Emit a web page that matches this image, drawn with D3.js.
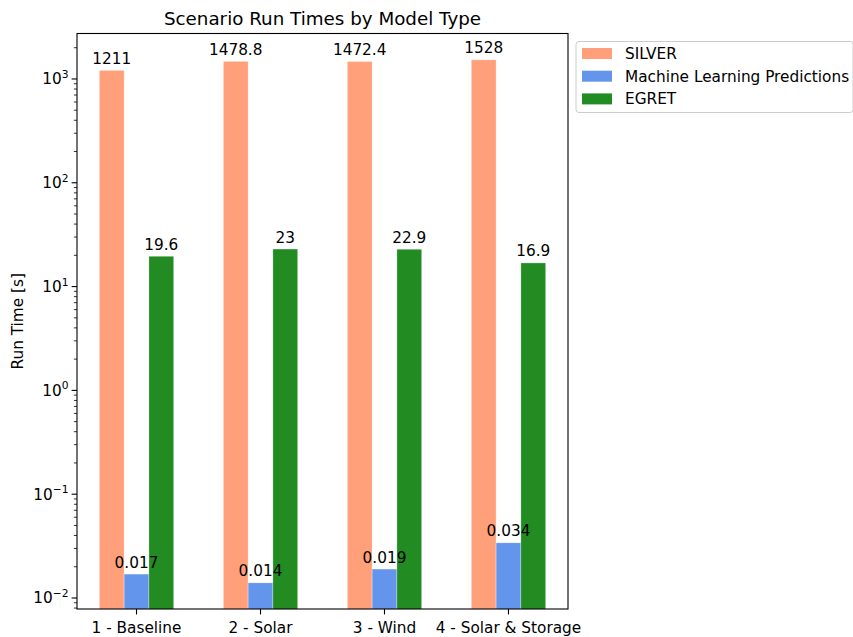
<!DOCTYPE html>
<html>
<head>
<meta charset="utf-8">
<script src="https://cdn.jsdelivr.net/npm/d3@7"></script>
<style>
  html, body { margin: 0; padding: 0; background: #fff; }
  svg { display: block; font-family: "DejaVu Sans", sans-serif; }
</style>
</head>
<body>
<svg id="chart" width="853" height="637"></svg>
<script>
// Scenario categories and run times (seconds) for each model type
const scenarios = ["1 - Baseline", "2 - Solar", "3 - Wind", "4 - Solar & Storage"];
const silverTimes = [1211, 1478.8, 1472.4, 1528];
const mlTimes = [0.017, 0.014, 0.019, 0.034];
const egretTimes = [19.6, 23, 22.9, 16.9];
const seriesNames = ["SILVER", "Machine Learning Predictions", "EGRET"];
const seriesColors = ["#FFA07A", "#6495ED", "#228B22"];
const yTickExponents = [-2, -1, 0, 1, 2, 3];

const FS = "15.3px";
const svg = d3.select("#chart");
const margin = { left: 77, right: 568, top: 33.5, bottom: 609 };

// x: category index, with the grouped bars spanning ±0.3 and 5% padding
const x = d3.scaleLinear().domain([-0.48, 3.48]).range([margin.left, margin.right]);
const y = d3.scaleLog().domain([Math.pow(10, -2.106), Math.pow(10, 3.438)]).range([margin.bottom, margin.top]);

const barW = 0.2;
const series = [silverTimes, mlTimes, egretTimes];
const offsets = [-0.2, 0, 0.2];

svg.append("clipPath").attr("id", "plotclip").append("rect")
  .attr("x", margin.left).attr("y", margin.top)
  .attr("width", margin.right - margin.left).attr("height", margin.bottom - margin.top);

const bars = svg.append("g").attr("clip-path", "url(#plotclip)");
const labels = svg.append("g");

series.forEach((vals, si) => {
  bars.append("g").selectAll("rect").data(vals).join("rect")
    .attr("x", (d, i) => x(i + offsets[si] - barW / 2))
    .attr("width", (d, i) => x(i + offsets[si] + barW / 2) - x(i + offsets[si] - barW / 2))
    .attr("y", d => y(d))
    .attr("height", d => margin.bottom + 2 - y(d))
    .attr("fill", seriesColors[si])
    .attr("stroke", "#fff")
    .attr("stroke-opacity", 0.5)
    .attr("stroke-width", 0.6);
  // value labels above each bar, drawn on top of all bars
  labels.append("g").selectAll("text").data(vals).join("text")
    .attr("x", (d, i) => x(i + offsets[si]))
    .attr("y", d => y(d) - 6.5)
    .attr("text-anchor", "middle")
    .attr("font-size", FS)
    .attr("fill", "#000")
    .text(d => String(d));
});

// spines
svg.append("rect")
  .attr("x", margin.left).attr("y", margin.top)
  .attr("width", margin.right - margin.left).attr("height", margin.bottom - margin.top)
  .attr("fill", "none").attr("stroke", "#000").attr("stroke-width", 1.1);

// x axis ticks and labels
const xAxis = svg.append("g");
scenarios.forEach((s, i) => {
  xAxis.append("line").attr("x1", x(i)).attr("x2", x(i))
    .attr("y1", margin.bottom).attr("y2", margin.bottom + 5.4)
    .attr("stroke", "#000").attr("stroke-width", 1.1);
  xAxis.append("text").attr("x", x(i)).attr("y", margin.bottom + 23.5)
    .attr("text-anchor", "middle").attr("font-size", FS).text(s);
});

// y axis: major decades and minor 2..9 ticks
const yAxis = svg.append("g");
const [lo, hi] = y.domain();
for (let e = -3; e <= 4; e++) {
  for (let m = 1; m <= 9; m++) {
    const v = m * Math.pow(10, e);
    if (v < lo || v > hi) continue;
    const len = m === 1 ? 5.4 : 3.1;
    yAxis.append("line").attr("x1", margin.left - len).attr("x2", margin.left)
      .attr("y1", y(v)).attr("y2", y(v))
      .attr("stroke", "#000").attr("stroke-width", m === 1 ? 1.1 : 0.8);
  }
}
yTickExponents.forEach(e => {
  const t = yAxis.append("text").attr("x", margin.left - 8.5).attr("y", y(Math.pow(10, e)) + 5.5)
    .attr("text-anchor", "end").attr("font-size", FS);
  t.append("tspan").text("10");
  t.append("tspan").attr("dy", -6.5).attr("font-size", "10.7px").text(e < 0 ? "\u2212" + (-e) : String(e));
});

// axis label and title
svg.append("text")
  .attr("transform", `translate(23,${(margin.top + margin.bottom) / 2}) rotate(-90)`)
  .attr("text-anchor", "middle").attr("font-size", FS).text("Run Time [s]");
svg.append("text")
  .attr("x", (margin.left + margin.right) / 2).attr("y", 24.5)
  .attr("text-anchor", "middle").attr("font-size", "18.3px").text("Scenario Run Times by Model Type");

// legend
const legend = svg.append("g");
legend.append("rect")
  .attr("x", 576).attr("y", 41.5).attr("width", 277).attr("height", 71)
  .attr("rx", 3).attr("fill", "#fff").attr("fill-opacity", 0.8)
  .attr("stroke", "#ccc").attr("stroke-width", 1);
seriesNames.forEach((name, i) => {
  const cy = 53.5 + i * 22.7;
  legend.append("rect").attr("x", 582).attr("y", cy - 5.5).attr("width", 30).attr("height", 11)
    .attr("fill", seriesColors[i]);
  legend.append("text").attr("x", 625).attr("y", cy + 5.5)
    .attr("font-size", FS).text(name);
});
</script>
</body>
</html>
